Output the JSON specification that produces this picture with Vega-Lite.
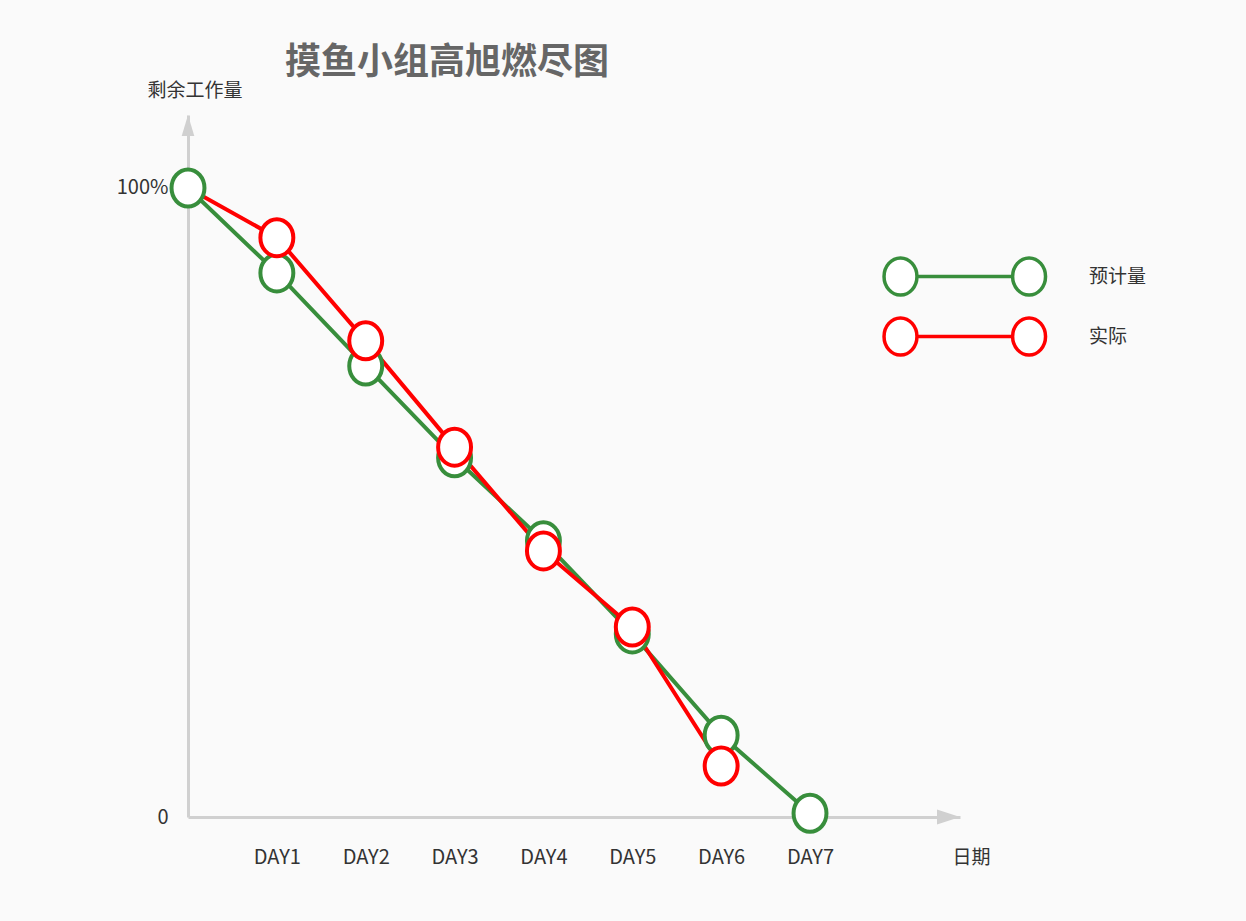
{
  "$schema": "https://vega.github.io/schema/vega-lite/v6.json",
  "width": 772,
  "height": 702,
  "autosize": {"type": "none"},
  "padding": {"left": 188, "top": 115, "right": 286, "bottom": 104},
  "background": "#fafafa",
  "title": {
    "text": "摸鱼小组高旭燃尽图",
    "anchor": "start",
    "frame": "group",
    "dx": 97,
    "offset": -1,
    "fontSize": 36,
    "fontWeight": "bold",
    "color": "#666666"
  },
  "data": {
    "values": [
      {"series": "预计量", "day": 0, "value": 100},
      {"series": "预计量", "day": 1, "value": 86.5},
      {"series": "预计量", "day": 2, "value": 71.7},
      {"series": "预计量", "day": 3, "value": 57.1},
      {"series": "预计量", "day": 4, "value": 43.9},
      {"series": "预计量", "day": 5, "value": 29.1},
      {"series": "预计量", "day": 6, "value": 13.0},
      {"series": "预计量", "day": 7, "value": 0.6},
      {"series": "实际", "day": 0, "value": 100},
      {"series": "实际", "day": 1, "value": 92.1},
      {"series": "实际", "day": 2, "value": 75.7},
      {"series": "实际", "day": 3, "value": 58.8},
      {"series": "实际", "day": 4, "value": 42.3},
      {"series": "实际", "day": 5, "value": 30.2},
      {"series": "实际", "day": 6, "value": 8.1}
    ]
  },
  "layer": [
    {
      "mark": {"type": "line", "strokeWidth": 4},
      "encoding": {
        "x": {
          "field": "day",
          "type": "quantitative",
          "scale": {"domain": [0, 8.688], "nice": false, "zero": false},
          "axis": {
            "title": "日期",
            "titleX": 764,
            "titleY": 40,
            "titleAlign": "left",
            "titleBaseline": "middle",
            "values": [1, 2, 3, 4, 5, 6, 7],
            "labelExpr": "'DAY' + datum.value",
            "labelPadding": 30
          }
        },
        "y": {
          "field": "value",
          "type": "quantitative",
          "scale": {"domain": [0, 111.6], "nice": false},
          "axis": {
            "title": "剩余工作量",
            "titleAngle": 0,
            "titleX": -41,
            "titleY": -25,
            "titleAlign": "left",
            "titleBaseline": "middle",
            "values": [0, 100],
            "labelExpr": "datum.value == 100 ? '100%' : '0'",
            "labelPadding": 20
          }
        },
        "stroke": {
          "field": "series",
          "type": "nominal",
          "scale": {"domain": ["预计量", "实际"], "range": ["#388e3c", "#ff0000"]},
          "legend": {
            "title": null,
            "orient": "none",
            "legendX": 692,
            "legendY": 141,
            "padding": 0,
            "rowPadding": 9,
            "symbolType": "M0.89,0C0.89,0.552,0.492,1,0,1C-0.492,1,-0.89,0.552,-0.89,0C-0.89,-0.552,-0.492,-1,0,-1C0.492,-1,0.89,-0.552,0.89,0ZM0.89,0L6.06,0M7.84,0C7.84,0.552,7.442,1,6.95,1C6.458,1,6.06,0.552,6.06,0C6.06,-0.552,6.458,-1,6.95,-1C7.442,-1,7.84,-0.552,7.84,0Z",
            "symbolSize": 1369,
            "symbolStrokeWidth": 3.5,
            "symbolFillColor": "white",
            "symbolOpacity": 1,
            "labelOffset": 168,
            "labelFontSize": 19,
            "labelColor": "#333333",
            "encode": {
              "symbols": {
                "update": {
                  "fill": {"value": "white"},
                  "strokeWidth": {"value": 3.5},
                  "opacity": {"value": 1}
                }
              }
            }
          }
        }
      }
    },
    {
      "transform": [{"filter": "datum.series == '预计量' || datum.day > 0"}],
      "mark": {
        "type": "point",
        "shape": "M0.89,0C0.89,0.552,0.492,1,0,1C-0.492,1,-0.89,0.552,-0.89,0C-0.89,-0.552,-0.492,-1,0,-1C0.492,-1,0.89,-0.552,0.89,0Z",
        "size": 1369,
        "filled": true,
        "fill": "white",
        "strokeWidth": 4,
        "opacity": 1
      },
      "encoding": {
        "x": {"field": "day", "type": "quantitative"},
        "y": {"field": "value", "type": "quantitative"},
        "stroke": {"field": "series", "type": "nominal"}
      }
    },
    {
      "data": {"values": [{"axis": "y"}]},
      "mark": {
        "type": "point",
        "shape": "M0,0L0.6,2L-0.6,2Z",
        "size": 441,
        "filled": true,
        "color": "#d0d0d0",
        "opacity": 1
      },
      "encoding": {
        "x": {"datum": 0},
        "y": {"datum": 111.6}
      }
    },
    {
      "data": {"values": [{"axis": "x"}]},
      "mark": {
        "type": "point",
        "shape": "M0,0L-2,0.65L-2,-0.65Z",
        "size": 529,
        "filled": true,
        "color": "#d0d0d0",
        "opacity": 1
      },
      "encoding": {
        "x": {"datum": 8.688},
        "y": {"datum": 0}
      }
    }
  ],
  "config": {
    "font": "Noto Sans CJK SC",
    "view": {"stroke": null},
    "axis": {
      "grid": false,
      "ticks": false,
      "tickSize": 0,
      "domainColor": "#d0d0d0",
      "domainWidth": 3,
      "labelFontSize": 20,
      "labelColor": "#333333",
      "titleFontSize": 19,
      "titleFontWeight": "normal",
      "titleColor": "#333333"
    }
  }
}
